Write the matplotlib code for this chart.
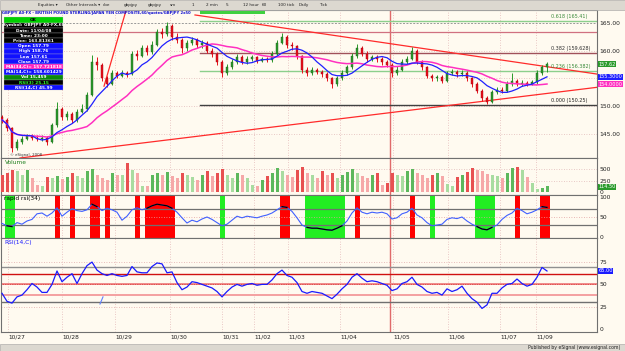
import matplotlib
matplotlib.use('Agg')
import matplotlib.pyplot as plt
import numpy as np
import pandas as pd
from matplotlib.patches import Rectangle

# ---------------- data ----------------
first_open = 148.0
closes = [147.5, 146.0, 142.5, 143.5, 144.0, 144.5, 144.3, 144.0, 144.2, 143.5,
          146.5, 149.5, 148.0, 148.5, 147.5, 149.0, 149.5, 152.0, 158.0, 157.5,
          155.0, 154.0, 156.0, 155.5, 156.0, 155.8, 159.5, 159.0, 160.5, 159.8,
          161.0, 163.5, 163.0, 164.5, 162.5, 162.0, 160.5, 161.5, 162.0, 161.0,
          161.5, 160.0, 159.5, 158.0, 156.0, 157.0, 158.0, 158.8, 158.0, 158.5,
          158.8, 158.2, 158.5, 158.3, 159.5, 161.5, 162.5, 161.0, 160.8, 159.0,
          156.5, 156.0, 156.5, 156.2, 155.8, 155.0, 154.0, 155.0, 156.0, 157.0,
          159.0, 160.5, 159.5, 158.5, 158.8, 158.5, 158.0, 157.5, 156.0, 156.5,
          158.0, 158.5, 160.0, 158.0, 157.0, 155.5, 155.0, 155.2, 154.5, 156.0,
          156.2, 155.8, 156.0, 155.0, 154.0, 152.8, 151.5, 150.8, 152.5, 153.0,
          152.8, 154.0, 154.5, 154.0, 154.2, 154.0, 154.3, 156.0, 157.0, 157.6]
highs = [148.3, 147.8, 146.2, 144.0, 144.6, 145.0, 145.0, 144.8, 144.8, 144.5,
         147.0, 150.8, 149.8, 149.2, 148.9, 149.5, 150.3, 152.6, 159.2, 158.8,
         157.8, 155.5, 156.5, 156.4, 156.6, 156.4, 160.0, 160.2, 161.0, 161.0,
         161.8, 164.0, 164.2, 165.2, 164.8, 163.2, 162.4, 162.0, 162.6, 162.3,
         162.0, 161.8, 160.6, 159.8, 158.3, 157.6, 158.6, 159.4, 159.2, 159.0,
         159.2, 159.0, 158.9, 158.9, 160.0, 162.0, 163.3, 162.8, 161.6, 161.0,
         159.3, 157.0, 157.0, 156.9, 156.6, 156.1, 155.3, 155.4, 156.5, 157.5,
         159.6, 161.2, 160.9, 159.9, 159.3, 159.2, 158.9, 158.4, 157.8, 157.2,
         158.5, 159.0, 160.7, 160.3, 158.4, 157.3, 155.9, 155.7, 155.6, 156.4,
         156.8, 156.6, 156.5, 156.3, 155.3, 154.3, 153.1, 151.9, 153.0, 153.5,
         153.4, 154.5, 156.0, 154.9, 154.7, 154.6, 154.8, 156.6, 157.4, 158.0]
lows = [147.0, 145.5, 141.6, 142.0, 143.2, 143.8, 143.9, 143.6, 143.7, 142.9,
        143.3, 146.2, 147.4, 147.5, 147.0, 147.2, 148.7, 149.2, 151.8, 156.6,
        154.5, 153.4, 153.8, 155.0, 155.2, 155.2, 155.6, 158.4, 158.8, 159.3,
        159.5, 160.8, 162.4, 162.7, 162.0, 161.4, 159.6, 160.0, 161.0, 160.5,
        160.6, 159.6, 158.9, 157.5, 155.3, 155.6, 156.7, 157.7, 157.6, 157.7,
        158.1, 157.8, 157.9, 157.9, 158.0, 159.3, 161.2, 160.6, 160.2, 158.6,
        156.0, 155.4, 155.7, 155.8, 155.3, 154.5, 153.3, 153.7, 154.7, 155.7,
        156.8, 158.7, 159.0, 158.0, 158.1, 158.0, 157.5, 157.0, 155.2, 155.6,
        156.3, 157.6, 158.3, 157.6, 156.5, 155.0, 154.5, 154.6, 154.1, 154.3,
        155.6, 155.3, 155.4, 154.6, 153.5, 152.3, 151.0, 150.3, 150.6, 152.1,
        152.3, 152.6, 153.7, 153.6, 153.7, 153.6, 153.8, 154.0, 155.6, 156.2]
volumes = [360, 420, 480, 450, 380, 470, 300, 160, 140, 330,
           300, 350, 280, 320, 420, 340, 300, 460, 500, 380,
           300, 260, 420, 380, 360, 620, 480, 420, 140, 120,
           360, 420, 380, 440, 350, 300, 420, 380, 320, 260,
           380, 460, 350, 420, 500, 380, 300, 420, 360, 300,
           150, 120, 260, 340, 420, 520, 460, 380, 320, 480,
           540, 420, 380, 300, 460, 380, 420, 300, 360, 440,
           500, 420, 340, 300, 380, 420, 160, 200, 420, 380,
           340, 460, 500, 420, 360, 300, 380, 420, 340, 180,
           140, 320, 380, 440, 520, 480, 460, 400, 380, 340,
           300, 420, 520, 540, 480, 320, 200, 60, 90, 120]
rapid_rsi = [34, 28, 26, 36, 32, 40, 44, 58, 60, 52,
             60, 73, 52, 62, 71, 66, 64, 68, 82, 76,
             66, 72, 68, 62, 42, 52, 68, 73, 68, 72,
             78, 82, 80, 78, 72, 62, 48, 35, 42, 38,
             45, 50, 44, 36, 28, 32, 42, 52, 48, 52,
             50, 48, 52, 55, 60, 68, 76, 74, 64, 48,
             30, 24, 22, 22, 20, 18, 17, 22, 28, 40,
             60, 73, 62, 58, 62, 60, 62, 58, 45, 48,
             58, 62, 72, 55, 48, 36, 28, 30, 32, 44,
             48, 46, 50, 40, 32, 26, 20, 18, 24, 30,
             44, 54, 60, 72, 66, 58, 62, 68, 76, 74]
rsi14 = [40, 31, 29, 36, 38, 44, 51, 47, 41, 41,
         50, 65, 53, 58, 62, 51, 62, 71, 75, 66,
         62, 60, 62, 60, 59, 60, 70, 64, 63, 63,
         70, 74, 73, 63, 64, 52, 44, 47, 53, 52,
         50, 48, 46, 42, 36, 42, 47, 50, 48, 50,
         51, 49, 50, 50, 55, 62, 66, 60, 58, 52,
         42, 40, 42, 41, 40, 37, 34, 39, 45, 50,
         58, 62, 57, 53, 54, 53, 51, 49, 43, 45,
         51, 53, 58, 50, 47, 42, 40, 41, 38, 45,
         42, 44, 48, 40, 34, 30, 23, 27, 40, 40,
         46, 50, 51, 56, 51, 48, 50, 58, 69, 65]

day_labels = ['10/27', '10/28', '10/29', '10/30', '10/31', '11/02', '11/03',
              '11/04', '11/05', '11/06', '11/07', '11/09']
day_start_bar = [1.2, 12.0, 22.6, 33.6, 44.0, 50.4, 57.2, 67.6, 78.2, 89.2, 99.6, 106.8]
cursor_bar = 77.6

fib_levels = [165.4095, 159.6284, 156.3825, 150.25]
fib_names = ['0.618', '0.382', '0.236', '0.000']
fib_colors = ['#8ccf8c', '#a0505a', '#8ccf8c', '#404040']
fib_text_colors = ['#3a8a3a', '#303030', '#3a8a3a', '#202020']
extra_level = 163.45

trend_lines = [((38.6, 166.5), (119.0, 155.8)),
               ((3.6, 140.6), (119.0, 153.4)),
               ((20.4, 153.6), (24.8, 167.3))]

ma_fast_len, ma_slow_len = 7, 17
last_price = 157.62
last_volume = 114.50

# ---------------- figure ----------------
W, H = 625, 351
BG = '#fffaf0'
fig = plt.figure(figsize=(6.25, 3.51), dpi=100)
fig.patch.set_facecolor(BG)
plt.rcParams['font.family'] = ['DejaVu Sans']


def ax_px(x0, y0, x1, y1):
    a = fig.add_axes([x0 / W, 1 - y1 / H, (x1 - x0) / W, (y1 - y0) / H])
    a.set_facecolor(BG)
    for s in a.spines.values():
        s.set_color('#707070')
        s.set_linewidth(0.8)
    a.yaxis.tick_right()
    a.tick_params(axis='y', length=0, labelsize=4.3, pad=2, colors='#202020')
    a.tick_params(axis='x', length=0, labelbottom=False)
    return a


n = len(closes)
x = np.arange(n)
opens = [first_open] + closes[:-1]
XL = (-0.2, 119.0)

ax_p = ax_px(1, 10, 597, 158)
ax_v = ax_px(1, 158, 597, 195)
ax_r = ax_px(1, 195, 597, 238)
ax_s = ax_px(1, 238, 597, 332)

for a in (ax_p, ax_v, ax_r, ax_s):
    a.set_xlim(*XL)
    for b in day_start_bar:
        a.axvline(b, color='#e3b8b8', lw=0.6, ls=(0, (1, 2)), zorder=0.5)
    a.axvline(cursor_bar, color='#e06a6a', lw=1.0, zorder=1)

# ---- price panel ----
ax_p.set_ylim(140.6, 167.4)
ax_p.set_yticks([145, 150, 160, 165])
ax_p.set_yticklabels(['145.00', '150.00', '160.00', '165.00'])
for lv in [145, 150, 155, 160]:
    ax_p.axhline(lv, color='#e0b8b8', lw=0.6, ls=(0, (1, 2)), zorder=0.5)
ax_p.axhline(165, color='#999999', lw=0.7, ls=(0, (2, 1.5)), zorder=0.5)
ax_p.axhline(extra_level, color='#d07080', lw=0.9, zorder=1)
for lv, nm, col, tc in zip(fib_levels, fib_names, fib_colors, fib_text_colors):
    ax_p.plot([39.6, XL[1]], [lv, lv], color=col, lw=1.0, zorder=1)
    ax_p.text(109.8, lv + 0.3, f'{nm} ({lv:g})', fontsize=3.5, color=tc,
              ha='left', va='bottom', zorder=3)

for (x0, y0), (x1, y1) in trend_lines:
    ax_p.plot([x0, x1], [y0, y1], color='#ff2a2a', lw=0.9, zorder=2)

cl = np.array(closes)
op = np.array(opens)
up = cl >= op
cols = np.where(up, '#2a9a2a', '#e8101a')
ax_p.vlines(x, lows, highs, colors=cols, lw=0.7, zorder=3)
body = np.maximum(np.abs(cl - op), 0.12)
ax_p.bar(x, body, bottom=np.minimum(cl, op), width=0.5, color=cols,
         edgecolor=np.where(up, '#1d5f1d', '#a00010'), linewidth=0.3, zorder=4)

ma_fast = pd.Series(closes).rolling(ma_fast_len, min_periods=1).mean()
ma_slow = pd.Series(closes).rolling(ma_slow_len, min_periods=1).mean()
ax_p.plot(x, ma_slow, color='#ff30c0', lw=1.1, zorder=5)
ax_p.plot(x, ma_fast, color='#2020ff', lw=0.9, zorder=6)


def box(a, y, txt, fc, tc='white'):
    a.text(1.002, y, txt, transform=a.get_yaxis_transform(), fontsize=3.6,
           color=tc, ha='left', va='center', zorder=10, clip_on=False,
           bbox=dict(boxstyle='square,pad=0.12', fc=fc, ec='none'))


box(ax_p, last_price, f'{last_price:.2f}', '#2a9a2a')
box(ax_p, ma_fast.iloc[-1], f'{ma_fast.iloc[-1]:.4f}', '#2020ff')
box(ax_p, ma_slow.iloc[-1], f'{ma_slow.iloc[-1]:.4f}', '#ff30c0')
ax_p.text(1.5, 141.0, '\u00a9 eSignal, 2008', fontsize=2.8, color='#303030', zorder=8)

# info box (figure pixel coords)
info_rows = [('OK', '#00d000', 'black'),
             ('Symbol: GBPJPY A0-FX,60', 'black', 'white'),
             ('Date: 11/04/08', 'black', 'white'),
             ('Time: 23:00', 'black', 'white'),
             ('Price: 163.81361', 'black', 'white'),
             ('Open 157.79', '#1010ff', 'white'),
             ('High 158.76', '#1010ff', 'white'),
             ('Low 157.61', '#1010ff', 'white'),
             ('Close 157.79', '#1010ff', 'white'),
             ('MA(34,C)= 157.721818', '#ff20c0', 'white'),
             ('MA(14,C)= 158.601429', '#1010ff', 'white'),
             ('Vol 15,459', '#0a8a0a', 'white'),
             ('RSI(3) 25.15', 'black', '#30ff30'),
             ('RSI(14,C) 45.99', '#1010ff', 'white')]
bx0, bx1, by0 = 4, 63, 17.5
rh = 5.2
for k, (t, fc, tc) in enumerate(info_rows):
    yy = by0 + k * rh
    fig.patches.append(Rectangle((bx0 / W, 1 - (yy + rh) / H), (bx1 - bx0) / W, rh / H,
                                 transform=fig.transFigure, fc=fc, ec='#c0c0c0', lw=0.2,
                                 zorder=20))
    fig.text((bx0 + bx1) / 2 / W, 1 - (yy + rh / 2) / H, t, fontsize=3.1, color=tc,
             ha='center', va='center', zorder=21, fontweight='bold')

# ---- volume panel ----
ax_v.set_ylim(-65, 739)
ax_v.set_yticks([0, 250, 500])
ax_v.set_yticklabels(['0', '250', '500'])
for lv in [250, 500]:
    ax_v.axhline(lv, color='#e0b8b8', lw=0.6, ls=(0, (1, 2)), zorder=0.5)
vol = np.array(volumes)
vrise = np.r_[True, vol[1:] >= vol[:-1]]
vcols = np.where(up, np.where(vrise, '#5cb85c', '#a8dca0'),
                 np.where(vrise, '#e85050', '#f6a8a8'))
ax_v.bar(x, vol, width=0.6, color=vcols, zorder=3)
ax_v.text(0.5, 690, 'Volume', fontsize=4.2, color='#208020', va='top', zorder=8)
box(ax_v, last_volume, f'{last_volume:.2f}', '#2a9a2a')

# ---- rapid rsi panel ----
ax_r.set_ylim(-2.5, 105)
ax_r.set_yticks([0, 50, 100])
ax_r.set_yticklabels(['0', '50', '100'])
rr = np.array(rapid_rsi, dtype=float)
for i, v in enumerate(rr):
    if v > 70:
        ax_r.axvspan(i - 0.5, i + 0.5, color='#ff0000', lw=0, zorder=1)
    elif v < 30:
        ax_r.axvspan(i - 0.5, i + 0.5, color='#22ee22', lw=0, zorder=1)
ax_r.axhline(70, color='#707070', lw=0.9, zorder=2)
ax_r.axhline(30, color='#707070', lw=0.9, zorder=2)
ax_r.axhline(50, color='#e0a0a0', lw=0.6, ls=(0, (1, 2)), zorder=2)
ax_r.plot(x, rr, color='#4060ff', lw=0.8, zorder=3)
ext = np.where((rr > 70) | (rr < 30), rr, np.nan)
ax_r.plot(x, ext, color='black', lw=0.9, zorder=4)
ax_r.text(0.5, 102, 'rapid rsi(34)', fontsize=4.2, color='black', va='top', zorder=8)

# ---- RSI panel ----
ax_s.set_ylim(-3.4, 102)
ax_s.set_yticks([0, 25, 50, 75])
ax_s.set_yticklabels(['0', '25', '50', '75'])
for lv in [75, 25]:
    ax_s.axhline(lv, color='#e0a8a8', lw=0.6, ls=(0, (1, 2)), zorder=1)
ax_s.axhline(70, color='#909090', lw=1.0, zorder=1)
ax_s.axhline(62, color='#d01010', lw=1.0, zorder=1)
ax_s.axhline(50, color='#f08a8a', lw=1.4, zorder=1)
ax_s.axhline(50, color='#d01010', lw=0.5, ls=(0, (1, 1.5)), zorder=1)
ax_s.axhline(38, color='#f4a0a0', lw=1.4, zorder=1)
ax_s.axhline(30, color='#707070', lw=1.0, zorder=1)
ax_s.plot(x, rsi14, color='#1a1aff', lw=0.9, zorder=3)
ax_s.plot([19.6, 20.2], [28, 36], color='#6080ff', lw=0.8, zorder=3)
ax_s.text(0.5, 100, 'RSI(14,C)', fontsize=4.2, color='#1a1aff', va='top', zorder=8)
box(ax_s, rsi14[-1], f'{rsi14[-1]:.2f}', '#1a1aff')

ax_s.set_xticks(day_start_bar)
ax_s.set_xticklabels(day_labels)
ax_s.tick_params(axis='x', labelbottom=True, labelsize=4.2, pad=2, colors='#202020')
for lab in ax_s.get_xticklabels():
    lab.set_ha('left')

# ---- toolbar, title, footer ----
fig.patches.append(Rectangle((0, 1 - 9.5 / H), 1, 9.5 / H, transform=fig.transFigure,
                             fc='#dcd8d0', ec='#a0a0a0', lw=0.4, zorder=0))
tb_items = ['Equities \u25be', 'Other Intervals \u25be', 'cbe', 'gbpjpy', 'gbpjpy', 'sm',
            '1', '2 min', '5', '12 hour', '60', '100 tick', 'Daily', 'Tick']
tb_x = [38, 66, 103, 124, 148, 170, 192, 206, 226, 243, 262, 278, 299, 319]
for t, xx in zip(tb_items, tb_x):
    fig.text(xx / W, 1 - 5 / H, t, fontsize=3.0, color='#202020', va='center')
fig.text(2 / W, 1 - 13.3 / H,
         'GBPJPY A0-FX - BRITISH POUND STERLING/JAPAN YEN COMPOSITE,60/quotes/GBPJPY 2x50',
         fontsize=2.7, color='#1010d0', fontweight='bold', va='center', zorder=20)
fig.patches.append(Rectangle((200 / W, 1 - 14 / H), 65 / W, 3.5 / H, transform=fig.transFigure,
                             fc='#40d040', ec='none', zorder=19))
fig.patches.append(Rectangle((0, 0), 1, 7 / H, transform=fig.transFigure,
                             fc='#dcd8d0', ec='#a0a0a0', lw=0.4, zorder=0))
fig.text(620 / W, 3.5 / H, 'Published by eSignal (www.esignal.com)', fontsize=3.3,
         color='#202020', ha='right', va='center')

fig.savefig('out.png', dpi=100, facecolor=BG)
